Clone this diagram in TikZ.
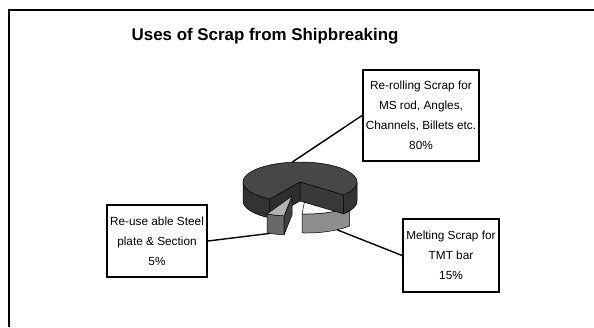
\documentclass[tikz,border=0pt]{standalone}
\usepackage{fontspec}
\setmainfont{Liberation Sans}
\definecolor{mainTop}{HTML}{474747}
\definecolor{mainSide}{HTML}{333333}
\definecolor{mainCutL}{HTML}{2E2E2E}
\definecolor{mainCutR}{HTML}{393939}
\definecolor{fiveTop}{HTML}{B2B2B2}
\definecolor{fiveSide}{HTML}{696969}
\definecolor{fiveCut}{HTML}{3E3E3E}
\definecolor{fifteenTop}{HTML}{FAFAFA}
\definecolor{fifteenSide}{HTML}{8E8E8E}
\begin{document}
\begin{tikzpicture}[x=1pt,y=-1pt,
  boxstyle/.style={draw=black,line width=1.8pt,fill=white,align=center,inner sep=0pt,
    font=\fontsize{11.8}{20}\selectfont},
  leader/.style={draw=black,line width=1.4pt},
  face/.style={draw=black,line width=0.5pt,line join=round}]
\useasboundingbox (0,0) rectangle (594,327);
\fill[white] (0,0) rectangle (594,327);
% outer frame
\draw[line width=1.8pt] (9,327) -- (9,10) -- (594,10);
% title
\node[anchor=base west,inner sep=0pt,font=\fontsize{16.9}{20}\selectfont\bfseries] (title) at (131.5,40.7) {Uses of Scrap from Shipbreaking};
% pie parameters
\def\rx{57}\def\ry{20}\def\h{19}
\def\cxA{300}\def\cyA{182}
\def\cxB{292}\def\cyB{196}
\def\cxC{306}\def\cyC{194}
% 15% slice
\filldraw[face,fill=fifteenSide] plot[domain=266:320,samples=40] ({\cxC+\rx*cos(\x)},{\cyC-\ry*sin(\x)})
  -- plot[domain=320:266,samples=40] ({\cxC+\rx*cos(\x)},{\cyC-\ry*sin(\x)+\h}) -- cycle;
\filldraw[face,fill=fifteenTop] (\cxC,\cyC) -- plot[domain=266:320,samples=40] ({\cxC+\rx*cos(\x)},{\cyC-\ry*sin(\x)}) -- cycle;
% main 80% slice
\filldraw[face,fill=mainSide] plot[domain=180:238,samples=40] ({\cxA+\rx*cos(\x)},{\cyA-\ry*sin(\x)})
  -- plot[domain=238:180,samples=40] ({\cxA+\rx*cos(\x)},{\cyA-\ry*sin(\x)+\h}) -- cycle;
\filldraw[face,fill=mainSide] plot[domain=-40:0,samples=30] ({\cxA+\rx*cos(\x)},{\cyA-\ry*sin(\x)})
  -- plot[domain=0:-40,samples=30] ({\cxA+\rx*cos(\x)},{\cyA-\ry*sin(\x)+\h}) -- cycle;
\filldraw[face,fill=mainCutL] (\cxA,\cyA) -- ({\cxA+\rx*cos(238)},{\cyA-\ry*sin(238)})
  -- ({\cxA+\rx*cos(238)},{\cyA-\ry*sin(238)+\h}) -- (\cxA,\cyA+\h) -- cycle;
\filldraw[face,fill=mainCutR] (\cxA,\cyA) -- ({\cxA+\rx*cos(-40)},{\cyA-\ry*sin(-40)})
  -- ({\cxA+\rx*cos(-40)},{\cyA-\ry*sin(-40)+\h}) -- (\cxA,\cyA+\h) -- cycle;
\filldraw[face,fill=mainTop] (\cxA,\cyA) -- plot[domain=-40:238,samples=120] ({\cxA+\rx*cos(\x)},{\cyA-\ry*sin(\x)}) -- cycle;
% 5% slice
\filldraw[face,fill=fiveSide] plot[domain=244:262,samples=20] ({\cxB+\rx*cos(\x)},{\cyB-\ry*sin(\x)})
  -- plot[domain=262:244,samples=20] ({\cxB+\rx*cos(\x)},{\cyB-\ry*sin(\x)+\h}) -- cycle;
\filldraw[face,fill=fiveCut] (\cxB,\cyB) -- ({\cxB+\rx*cos(262)},{\cyB-\ry*sin(262)})
  -- ({\cxB+\rx*cos(262)},{\cyB-\ry*sin(262)+\h}) -- (\cxB,\cyB+\h) -- cycle;
\filldraw[face,fill=fiveTop] (\cxB,\cyB) -- plot[domain=244:262,samples=20] ({\cxB+\rx*cos(\x)},{\cyB-\ry*sin(\x)}) -- cycle;
% leader end points on the pie
\coordinate (p80) at ({\cxA+\rx*cos(98)},{\cyA-\ry*sin(98)});
\coordinate (p5) at ({\cxB+\rx*cos(247)},{\cyB-\ry*sin(247)+\h});
\coordinate (p15) at ({\cxC+\rx*cos(-57)},{\cyC-\ry*sin(-57)+\h});
% label boxes
\node[boxstyle,minimum width=116pt,minimum height=91pt] (b80) at (421,115.5)
  {Re-rolling Scrap for\\MS rod, Angles,\\Channels, Billets etc.\\80\%};
\node[boxstyle,minimum width=100pt,minimum height=72pt] (b5) at (157,241)
  {Re-use able Steel\\plate \& Section\\5\%};
\node[boxstyle,minimum width=96pt,minimum height=73pt] (b15) at (451,255.5)
  {Melting Scrap for\\TMT bar\\15\%};
% leaders
\draw[leader] (p80) -- (b80.west);
\draw[leader] (p5) -- (b5.east);
\draw[leader] (p15) -- (b15.west);
\end{tikzpicture}
\end{document}
